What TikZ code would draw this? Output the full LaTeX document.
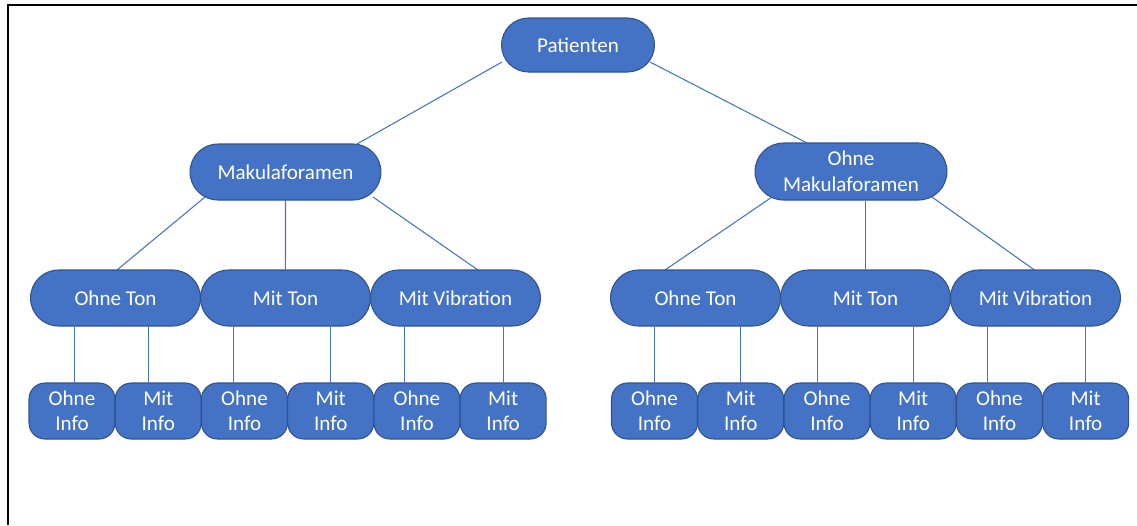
\documentclass[tikz,border=0pt]{standalone}
\usepackage{fontspec}
\setmainfont{Carlito}
\usetikzlibrary{shapes.misc,calc,backgrounds}
\definecolor{boxblue}{HTML}{4472C4}
\definecolor{boxedge}{HTML}{2F528F}
\begin{document}
\begin{tikzpicture}[x=0.02cm,y=-0.02cm,
        box/.style={rounded rectangle,fill=boxblue,draw=boxedge,line width=0.6pt,text=white,align=center,font=\fontsize{12}{15}\selectfont,minimum height=1.12cm,inner sep=2pt},
        leaf/.style={rectangle,rounded corners=0.32cm,fill=boxblue,draw=boxedge,line width=0.6pt,text=white,align=center,font=\fontsize{12}{14}\selectfont,minimum width=1.72cm,minimum height=1.12cm,inner sep=1pt,node distance=1.725cm},
        link/.style={draw=boxblue,line width=0.6pt}]
    \useasboundingbox (0,0) rectangle (1137,525);
    \draw[line width=1.2pt] (8,525) -- (8,5) -- (1137,5);
    % top levels
    \node[box,minimum width=3.2cm,minimum height=1.08cm] (pat) at (578,45) {Patienten};
    \node[box,minimum width=3.96cm] (mak) at (285.5,172) {Makulaforamen};
    \node[box,minimum width=3.98cm,minimum height=1.14cm] (omak) at (851,171.5) {Ohne\\Makulaforamen};
    % second level
    \node[box,minimum width=3.54cm,node distance=3.4cm] (ot1) at (115.5,298) {Ohne Ton};
    \node[box,minimum width=3.54cm,node distance=3.4cm,right of=ot1] (mt1) {Mit Ton};
    \node[box,minimum width=3.54cm,node distance=3.4cm,right of=mt1] (mv1) {Mit Vibration};
    \node[box,minimum width=3.54cm,node distance=3.4cm] (ot2) at (695.5,298) {Ohne Ton};
    \node[box,minimum width=3.54cm,node distance=3.4cm,right of=ot2] (mt2) {Mit Ton};
    \node[box,minimum width=3.54cm,node distance=3.4cm,right of=mt2] (mv2) {Mit Vibration};
    % leaves
    \node[leaf] (l1) at (72,411) {Ohne\\Info};
    \node[leaf,right of=l1] (l2) {Mit\\Info};
    \node[leaf,right of=l2] (l3) {Ohne\\Info};
    \node[leaf,right of=l3] (l4) {Mit\\Info};
    \node[leaf,right of=l4] (l5) {Ohne\\Info};
    \node[leaf,right of=l5] (l6) {Mit\\Info};
    \node[leaf] (r1) at (654.5,411) {Ohne\\Info};
    \node[leaf,right of=r1] (r2) {Mit\\Info};
    \node[leaf,right of=r2] (r3) {Ohne\\Info};
    \node[leaf,right of=r3] (r4) {Mit\\Info};
    \node[leaf,right of=r4] (r5) {Ohne\\Info};
    \node[leaf,right of=r5] (r6) {Mit\\Info};
    \begin{scope}[on background layer]
        \path[link] ($(pat)+(-76,17)$) -- ($(mak)+(71.5,-28)$);
        \path[link] ($(pat)+(72,17)$) -- ($(omak)+(-44,-28.5)$);
        \path[link] ($(mak)+(-80.5,25)$) -- ($(ot1)+(1.5,-28)$);
        \path[link] (mak.south) -- (mt1.north);
        \path[link] ($(mak)+(87.5,25)$) -- ($(mv1)+(22.5,-28)$);
        \path[link] ($(omak)+(-79,25.5)$) -- ($(ot2)+(-30.5,-28)$);
        \path[link] (mt2.north) -- (mt2.north |- omak.south);
        \path[link] ($(omak)+(81,25.5)$) -- ($(mv2)+(-1,-28)$);
        \foreach \l/\p/\s in {l1/ot1/2.5,l2/ot1/-10,l3/mt1/-11,l4/mt1/0,l5/mv1/-12,l6/mv1/0,
                r1/ot2/0,r2/ot2/0,r3/mt2/-9,r4/mt2/0,r5/mv2/-12,r6/mv2/0}
            \path[link] ($(\l.north)+(\s,0)$) -- ($(\p.south -| \l.north)+(\s,0)$);
    \end{scope}
\end{tikzpicture}
\end{document}
